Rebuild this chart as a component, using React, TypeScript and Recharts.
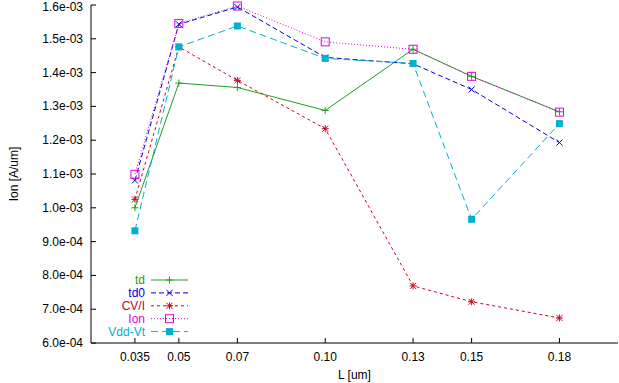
import { LineChart, Line, XAxis, YAxis, Legend } from 'recharts';

const lengths = [0.035, 0.05, 0.07, 0.1, 0.13, 0.15, 0.18];
const lengthLabels = ['0.035', '0.05', '0.07', '0.10', '0.13', '0.15', '0.18'];

const td = [1.0e-3, 1.369e-3, 1.356e-3, 1.288e-3, 1.469e-3, 1.389e-3, 1.284e-3];
const td0 = [1.081e-3, 1.543e-3, 1.594e-3, 1.445e-3, 1.426e-3, 1.35e-3, 1.193e-3];
const cvi = [1.025e-3, 1.476e-3, 1.377e-3, 1.234e-3, 7.69e-4, 7.22e-4, 6.74e-4];
const ion = [1.099e-3, 1.545e-3, 1.597e-3, 1.491e-3, 1.469e-3, 1.389e-3, 1.283e-3];
const vddVt = [9.32e-4, 1.476e-3, 1.538e-3, 1.442e-3, 1.427e-3, 9.66e-4, 1.249e-3];

const yTicks = [6e-4, 7e-4, 8e-4, 9e-4, 1e-3, 1.1e-3, 1.2e-3, 1.3e-3, 1.4e-3, 1.5e-3, 1.6e-3];

const data = lengths.map((L, i) => ({
  L,
  td: td[i],
  td0: td0[i],
  cvi: cvi[i],
  ion: ion[i],
  vdd: vddVt[i],
}));

type Marker = 'plus' | 'cross' | 'star' | 'box' | 'fbox';

const series: { key: string; name: string; color: string; dash?: string; marker: Marker }[] = [
  { key: 'td', name: 'td', color: '#1e9e1e', marker: 'plus' },
  { key: 'td0', name: 'td0', color: '#0000e0', dash: '5 3', marker: 'cross' },
  { key: 'cvi', name: 'CV/I', color: '#d00020', dash: '3 3', marker: 'star' },
  { key: 'ion', name: 'Ion', color: '#e000e0', dash: '1 2', marker: 'box' },
  { key: 'vdd', name: 'Vdd-Vt', color: '#00b0d0', dash: '7 4', marker: 'fbox' },
];

const FONT = '"Liberation Sans", Arial, sans-serif';
const TICK = 5;

function drawMarker(kind: Marker, cx: number, cy: number, color: string, key?: any) {
  const s = 3.5;
  switch (kind) {
    case 'plus':
      return (
        <g key={key}>
          <line x1={cx - s} y1={cy} x2={cx + s} y2={cy} stroke={color} />
          <line x1={cx} y1={cy - s} x2={cx} y2={cy + s} stroke={color} />
        </g>
      );
    case 'cross':
      return (
        <g key={key}>
          <line x1={cx - 3} y1={cy - 3} x2={cx + 3} y2={cy + 3} stroke={color} />
          <line x1={cx - 3} y1={cy + 3} x2={cx + 3} y2={cy - 3} stroke={color} />
        </g>
      );
    case 'star':
      return (
        <g key={key}>
          <line x1={cx - s} y1={cy} x2={cx + s} y2={cy} stroke={color} />
          <line x1={cx} y1={cy - s} x2={cx} y2={cy + s} stroke={color} />
          <line x1={cx - 3} y1={cy - 3} x2={cx + 3} y2={cy + 3} stroke={color} />
          <line x1={cx - 3} y1={cy + 3} x2={cx + 3} y2={cy - 3} stroke={color} />
        </g>
      );
    case 'box':
      return <rect key={key} x={cx - 4} y={cy - 4} width={8} height={8} fill="none" stroke={color} />;
    default:
      return <rect key={key} x={cx - 3.5} y={cy - 3.5} width={7} height={7} fill={color} />;
  }
}

const fmtExp = (v: number) => {
  const [m, e] = v.toExponential(1).split('e');
  const n = Math.abs(parseInt(e, 10));
  return `${m}e${e.startsWith('-') ? '-' : '+'}${n < 10 ? '0' + n : n}`;
};

const BottomTick = (props: any) => {
  const { x, y, payload } = props;
  const idx = lengths.indexOf(payload.value);
  return (
    <g>
      <line x1={x} y1={y} x2={x} y2={y - TICK} stroke="#000" />
      <text x={x} y={y + 14} textAnchor="middle" dominantBaseline="central" fontSize={12} fontFamily={FONT} fill="#000">
        {lengthLabels[idx]}
      </text>
    </g>
  );
};

const TopTick = (props: any) => {
  const { x, y } = props;
  return <line x1={x} y1={y} x2={x} y2={y + TICK} stroke="#000" />;
};

const LeftTick = (props: any) => {
  const { x, y, payload } = props;
  // keep the top label inside the picture
  const ty = Math.max(y, 7);
  return (
    <g>
      <line x1={x} y1={y} x2={x + TICK} y2={y} stroke="#000" />
      <text x={x - 8} y={ty} textAnchor="end" dominantBaseline="central" fontSize={12} fontFamily={FONT} fill="#000">
        {fmtExp(payload.value)}
      </text>
    </g>
  );
};

const RightTick = (props: any) => {
  const { x, y } = props;
  return <line x1={x} y1={y} x2={x - TICK} y2={y} stroke="#000" />;
};

const KeyBox = () => (
  <svg width={200} height={80} style={{ display: 'block' }}>
    {series.map((s, i) => {
      const cy = 14 + i * 12.9;
      return (
        <g key={s.key}>
          <text x={55} y={cy} textAnchor="end" dominantBaseline="central" fontSize={12} fontFamily={FONT} fill={s.color}>
            {s.name}
          </text>
          <line x1={61} y1={cy} x2={98} y2={cy} stroke={s.color} strokeDasharray={s.dash} />
          {drawMarker(s.marker, 79.5, cy, s.color)}
        </g>
      );
    })}
  </svg>
);

export default function App() {
  return (
    <div style={{ position: 'absolute', left: 0, top: 0, width: 619, height: 383, background: '#fff' }}>
      <LineChart width={619} height={383} data={data} margin={{ top: 5, right: 1, bottom: 0, left: 0 }}>
        <XAxis
          dataKey="L"
          type="number"
          domain={[0.02, 0.2]}
          ticks={lengths}
          height={40}
          tickSize={0}
          tickMargin={0}
          tickLine={false}
          axisLine={{ stroke: '#000' }}
          tick={BottomTick}
          interval={0}
          label={{ value: 'L [um]', position: 'insideBottom', offset: 4, fontSize: 12, fontFamily: FONT, fill: '#000' }}
        />
        <XAxis
          xAxisId="top"
          orientation="top"
          dataKey="L"
          type="number"
          domain={[0.02, 0.2]}
          ticks={lengths}
          height={0}
          tickSize={0}
          tickMargin={0}
          tickLine={false}
          axisLine={{ stroke: '#000' }}
          tick={TopTick}
          interval={0}
        />
        <YAxis
          type="number"
          domain={[6e-4, 1.6e-3]}
          ticks={yTicks}
          width={91}
          tickSize={0}
          tickMargin={0}
          tickLine={false}
          axisLine={{ stroke: '#000' }}
          tick={LeftTick}
          interval={0}
          label={{ value: 'Ion [A/um]', angle: -90, position: 'insideLeft', offset: 14, fontSize: 12, fontFamily: FONT, fill: '#000', style: { textAnchor: 'middle' } }}
        />
        <YAxis
          yAxisId="right"
          orientation="right"
          type="number"
          domain={[6e-4, 1.6e-3]}
          ticks={yTicks}
          width={0}
          tickSize={0}
          tickMargin={0}
          tickLine={false}
          axisLine={{ stroke: '#000' }}
          tick={RightTick}
          interval={0}
        />
        <Legend
          layout="vertical"
          align="center"
          verticalAlign="middle"
          wrapperStyle={{ position: 'absolute', left: 90, top: 266, width: 200, height: 80 }}
          content={() => <KeyBox />}
        />
        {series.map((s) => (
          <Line
            key={s.key}
            dataKey={s.key}
            name={s.name}
            type="linear"
            stroke={s.color}
            strokeWidth={1}
            strokeDasharray={s.dash}
            isAnimationActive={false}
            dot={(p: any) => drawMarker(s.marker, p.cx, p.cy, s.color, `${s.key}-${p.index}`)}
            activeDot={false}
          />
        ))}
      </LineChart>
    </div>
  );
}
